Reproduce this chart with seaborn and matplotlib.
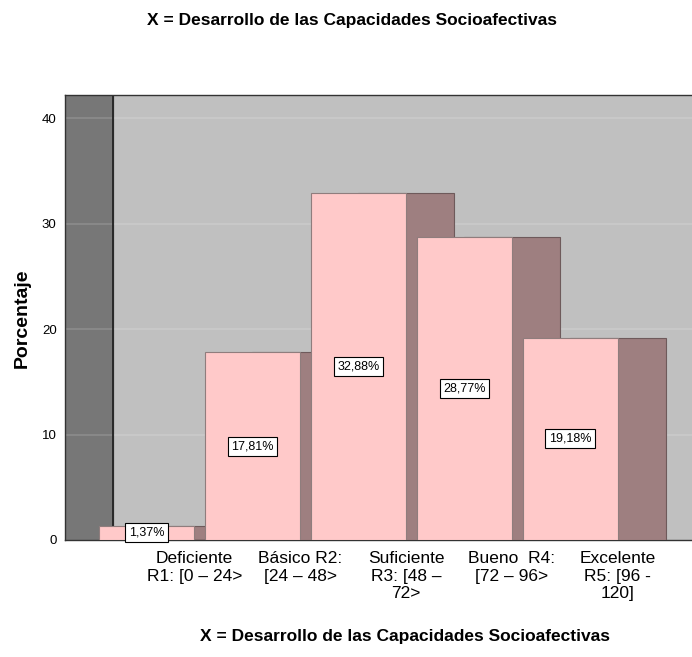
import matplotlib
matplotlib.use('Agg')
import matplotlib.pyplot as plt
import seaborn as sns
import pandas as pd

titulo = 'X = Desarrollo de las Capacidades Socioafectivas'
categorias = ['Deficiente\nR1: [0 – 24>', 'Básico R2:\n[24 – 48>', 'Suficiente\nR3: [48 –\n72>',
              'Bueno  R4:\n[72 – 96>', 'Excelente\nR5: [96 -\n120]']
porcentajes = [1.37, 17.81, 32.88, 28.77, 19.18]
etiquetas = ['1,37%', '17,81%', '32,88%', '28,77%', '19,18%']
yticks = [0, 10, 20, 30, 40]

df = pd.DataFrame({'Nivel': categorias, 'Porcentaje': porcentajes})

sns.set_style('white')
plt.rcParams['font.family'] = ['Liberation Sans', 'DejaVu Sans']
plt.rcParams['text.color'] = 'black'
plt.rcParams['xtick.color'] = 'black'
plt.rcParams['ytick.color'] = 'black'

fig = plt.figure(figsize=(6.92, 6.57), dpi=100)
ax = fig.add_axes([65/692, 1-540/657, 1-65/692, (540-95)/657])

prof = 0.45   # desplazamiento de la cara trasera (efecto 3D)
ancho = 0.9
rosa = '#FFC9C9'
malva = '#9E7F80'

# caras frontales
sns.barplot(data=df, x='Nivel', y='Porcentaje', color=rosa, width=ancho, saturation=1,
            edgecolor='#8F7D7D', linewidth=0.8, ax=ax)
frentes = list(ax.patches)

# caras traseras desplazadas
pos = list(range(len(porcentajes)))
traseras = ax.bar([p + prof for p in pos], porcentajes, width=ancho, color=malva,
                  edgecolor='#6E5A5B', linewidth=0.8)

for i, (f, t) in enumerate(zip(frentes, traseras)):
    t.set_zorder(2 + 2*i)
    f.set_zorder(3 + 2*i)

xmin, xmax = -0.77, 5.15
ax.set_xlim(xmin, xmax)
ax.set_ylim(0, 42.2)

# paredes
ax.set_facecolor('#C0C0C0')
ax.axvspan(xmin, xmin + prof, color='#777777', zorder=0.4)
ax.axvline(xmin + prof, color='#222222', lw=1.3, zorder=0.7)
for y in yticks[1:]:
    ax.axhline(y, color='white', alpha=0.14, lw=1.3, zorder=0.6)

# etiquetas de valor
for p, v, e in zip(pos, porcentajes, etiquetas):
    ax.text(p, v/2, e, ha='center', va='center', fontsize=9, zorder=30,
            bbox=dict(boxstyle='square,pad=0.28', fc='white', ec='black', lw=0.8))

ax.set_xticks([p + prof for p in pos], categorias)
ax.set_yticks(yticks)
ax.tick_params(axis='x', length=0, pad=8, labelsize=12.5)
ax.tick_params(axis='y', length=0, pad=6, labelsize=9.5)
ax.set_xlabel('')
ax.set_ylabel('')
for s in ['left', 'top', 'bottom']:
    ax.spines[s].set_color('#333333')
    ax.spines[s].set_linewidth(1)
ax.spines['right'].set_visible(False)

fig.text(352/692, 1-20/657, titulo, ha='center', va='center', fontsize=12.5, fontweight='bold')
fig.text(405/692, 1-636/657, titulo, ha='center', va='center', fontsize=12.5, fontweight='bold')
fig.text(22/692, 1-318/657, 'Porcentaje', rotation=90, ha='center', va='center',
         fontsize=14, fontweight='bold')

fig.savefig('out.png', dpi=100)
